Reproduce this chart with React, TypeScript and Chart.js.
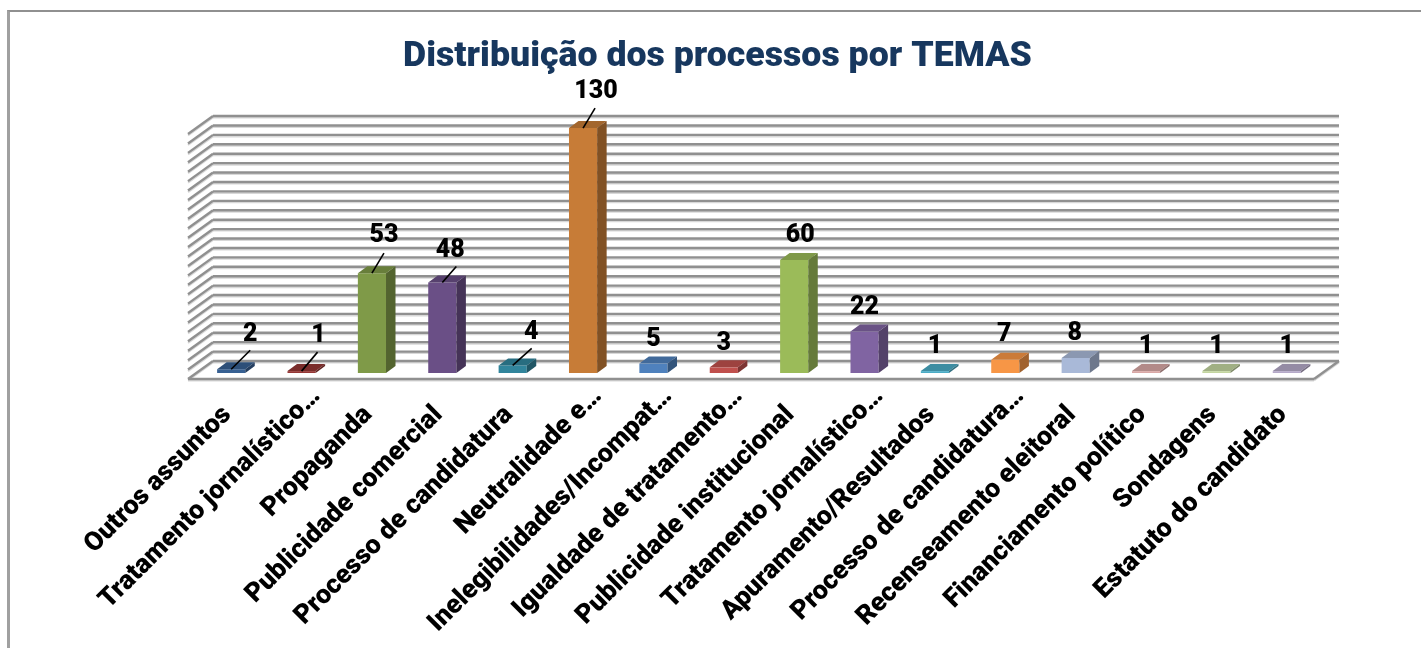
import React, { useEffect, useRef } from "react";
import { Chart, registerables } from "chart.js";

Chart.register(...registerables);

const titleText = "Distribuição dos processos por TEMAS";
const categories = [
  "Outros assuntos",
  "Tratamento jornalístico…",
  "Propaganda",
  "Publicidade comercial",
  "Processo de candidatura",
  "Neutralidade e…",
  "Inelegibilidades/Incompat…",
  "Igualdade de tratamento…",
  "Publicidade institucional",
  "Tratamento jornalístico…",
  "Apuramento/Resultados",
  "Processo de candidatura…",
  "Recenseamento eleitoral",
  "Financiamento político",
  "Sondagens",
  "Estatuto do candidato",
];
const values = [2, 1, 53, 48, 4, 130, 5, 3, 60, 22, 1, 7, 8, 1, 1, 1];
const barColors = [
  "#376092", "#953735", "#7f9a48", "#6a4f86", "#31859c", "#c77c37", "#4f81bd", "#c0504d",
  "#9bbb59", "#8064a2", "#4bacc6", "#f79646", "#a9b9d8", "#d9a8a6", "#c3d5a0", "#b5a9c8",
];
// Where each value label sits relative to the top of its bar, and where its leader ends.
const labelShiftX = [19, 17, 12, 8, 18.5, 13, 0, 0, 6, 0, 0, -1, -1, 0, 0, 0];
const labelShiftY = [-34, -35, -37, -32, -33, -36, -24, -24, -24, -24, -24, -25, -24, -24, -24, -24];
const leaderEndX = [19, 16, 12, 14, 19, 12, null, null, null, null, null, null, null, null, null, null];
const leaderEndY = [-19, -19, -20, -16, -17, -20, null, null, null, null, null, null, null, null, null, null];

const DEPTH_X = 9.5;
const DEPTH_Y = 7;
const WALL_X = 17;
const WALL_Y = 12;
const FRONT_X = 8;
const FRONT_Y = 6;

function shade(hex: string, f: number) {
  const n = parseInt(hex.slice(1), 16);
  const r = Math.round(((n >> 16) & 255) * f);
  const g = Math.round(((n >> 8) & 255) * f);
  const b = Math.round((n & 255) * f);
  return `rgb(${r},${g},${b})`;
}

function strokeSeg(ctx: any, x1: number, y1: number, x2: number, y2: number) {
  ctx.beginPath();
  ctx.moveTo(x1, y1);
  ctx.lineTo(x2, y2);
  ctx.stroke();
}

const wall3d = {
  id: "wall3d",
  beforeDatasetsDraw(chart: any) {
    const { ctx, chartArea, scales } = chart;
    const y = scales.y;
    const l = chartArea.left;
    const r = chartArea.right;
    ctx.save();
    const pass = (color: string, w: number, dy: number) => {
      ctx.strokeStyle = color;
      ctx.lineWidth = w;
      y.ticks.forEach((t: any) => {
        const py = y.getPixelForValue(t.value);
        strokeSeg(ctx, l - FRONT_X, py + FRONT_Y + dy, l + WALL_X, py - WALL_Y + dy);
        strokeSeg(ctx, l + WALL_X, py - WALL_Y + dy, r + WALL_X, py - WALL_Y + dy);
      });
      const base = y.getPixelForValue(0);
      strokeSeg(ctx, l - FRONT_X, base + FRONT_Y + dy, r - FRONT_X, base + FRONT_Y + dy);
      strokeSeg(ctx, r - FRONT_X, base + FRONT_Y + dy, r + WALL_X, base - WALL_Y + dy);
    };
    pass("#d8d8d8", 2, 1.5);
    pass("#909090", 2.4, 0);
    ctx.restore();
  },
  afterDatasetsDraw(chart: any) {
    const { ctx } = chart;
    const meta = chart.getDatasetMeta(0);
    ctx.save();
    meta.data.forEach((bar: any, i: number) => {
      const { x, y, base, width } = bar.getProps(["x", "y", "base", "width"], true);
      const a = x - width / 2;
      const b = x + width / 2;
      ctx.fillStyle = shade(barColors[i], 0.82);
      ctx.beginPath();
      ctx.moveTo(a, y);
      ctx.lineTo(b, y);
      ctx.lineTo(b + DEPTH_X, y - DEPTH_Y);
      ctx.lineTo(a + DEPTH_X, y - DEPTH_Y);
      ctx.closePath();
      ctx.fill();
      ctx.fillStyle = shade(barColors[i], 0.65);
      ctx.beginPath();
      ctx.moveTo(b, y);
      ctx.lineTo(b + DEPTH_X, y - DEPTH_Y);
      ctx.lineTo(b + DEPTH_X, base - DEPTH_Y);
      ctx.lineTo(b, base);
      ctx.closePath();
      ctx.fill();
    });
    meta.data.forEach((bar: any, i: number) => {
      const { x, y } = bar.getProps(["x", "y"], true);
      const ex = leaderEndX[i];
      const ey = leaderEndY[i];
      if (ex !== null && ey !== null) {
        ctx.strokeStyle = "#000";
        ctx.lineWidth = 1.6;
        strokeSeg(ctx, x, y, x + ex, y + ey);
      }
      ctx.fillStyle = "#000";
      ctx.font = "900 25px Roboto";
      ctx.textAlign = "center";
      ctx.textBaseline = "middle";
      ctx.fillText(String(values[i]), x + labelShiftX[i], y + labelShiftY[i]);
    });
    ctx.restore();
  },
};

export default function App() {
  const ref = useRef<HTMLCanvasElement | null>(null);
  useEffect(() => {
    const chart = new Chart(ref.current as HTMLCanvasElement, {
      type: "bar",
      data: {
        labels: categories,
        datasets: [
          {
            data: values,
            backgroundColor: barColors,
            barPercentage: 0.4,
            categoryPercentage: 1,
            borderWidth: 0,
          },
        ],
      },
      plugins: [wall3d],
      options: {
        responsive: false,
        animation: false,
        layout: { padding: { left: 14, right: 0, top: 0, bottom: 0 } },
        plugins: {
          legend: { display: false },
          tooltip: { enabled: false },
          title: {
            display: true,
            text: titleText,
            color: "#17375e",
            font: { family: "Roboto", weight: "900", size: 35.7, lineHeight: 1.2 },
            padding: { top: 36, bottom: 49.2 },
          },
        },
        scales: {
          x: {
            grid: { display: false },
            border: { display: false },
            ticks: {
              autoSkip: false,
              minRotation: 45,
              maxRotation: 45,
              padding: 0,
              labelOffset: 15,
              color: "#000",
              font: { family: "Roboto", weight: "900", size: 26.5 },
              // Truncated labels reach further up the diagonal than the complete ones.
              callback(_v: any, i: number) {
                const s = categories[i];
                return s.endsWith("…") ? s : s + "\u00a0\u00a0\u00a0\u00a0";
              },
            },
            afterFit(s: any) {
              s.height = 275;
            },
          },
          y: {
            min: 0,
            max: 130,
            grid: { display: false },
            border: { display: false },
            ticks: { display: false, stepSize: 5 },
            afterFit(s: any) {
              s.width = 182;
            },
          },
          spacer: {
            position: "right",
            grid: { display: false },
            border: { display: false },
            ticks: { display: false },
            afterFit(s: any) {
              s.width = 99;
            },
          },
        },
      } as any,
    });
    return () => chart.destroy();
  }, []);
  return (
    <div style={{ position: "absolute", left: 0, top: 0, width: 1421, height: 648, overflow: "hidden", background: "#fff" }}>
      <div
        style={{
          position: "absolute",
          left: 7,
          top: 10,
          right: 0,
          bottom: 0,
          borderLeft: "3px solid #a0a0a0",
          borderTop: "2px solid #909090",
        }}
      />
      <canvas ref={ref} width={1421} height={648} style={{ position: "absolute", left: 0, top: 0 }} />
    </div>
  );
}
